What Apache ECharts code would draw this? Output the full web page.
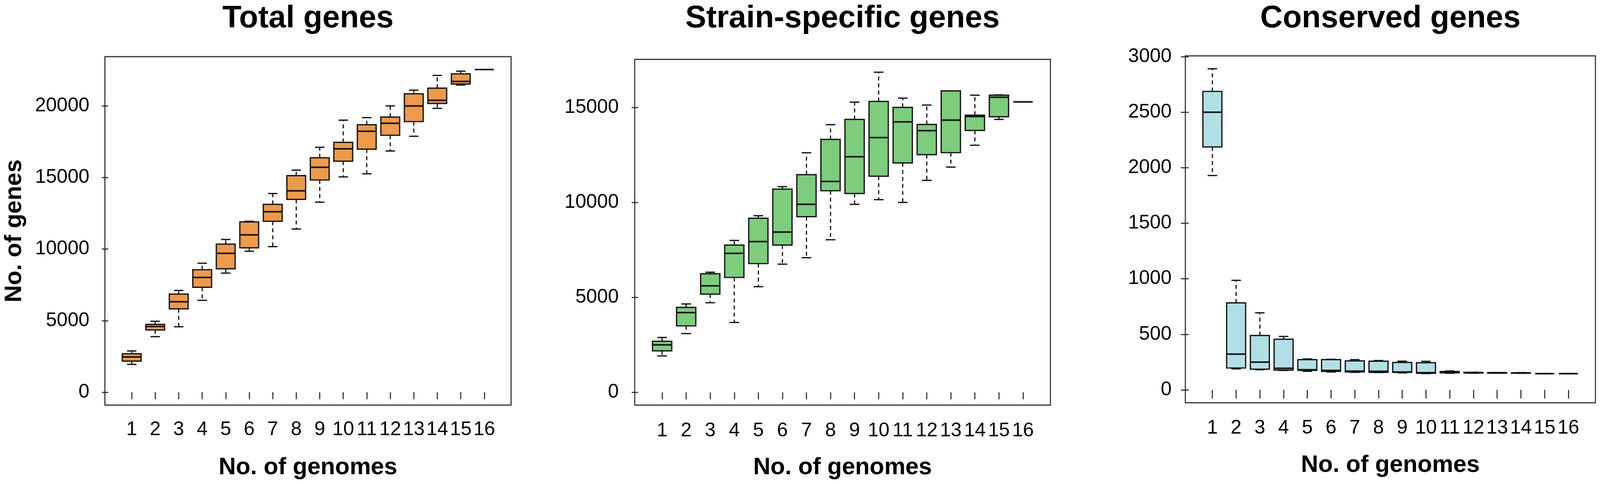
<!DOCTYPE html>
<html>
<head>
<meta charset="utf-8">
<script src="https://cdn.jsdelivr.net/npm/echarts@6/dist/echarts.min.js"></script>
<style>
  html, body { margin: 0; padding: 0; background: #fff; overflow: hidden; }
  #chart { width: 100vw; height: 100vh; }
</style>
</head>
<body>
<div id="chart"></div>
<script>
// No. of genomes (x categories)
const genomeCounts = [1, 2, 3, 4, 5, 6, 7, 8, 9, 10, 11, 12, 13, 14, 15, 16]

// five-number summaries per box: [lower whisker, Q1, median, Q3, upper whisker]
const totalGenes = [
  [1940, 2170, 2465, 2685, 2880],
  [3880, 4350, 4590, 4740, 4955],
  [4570, 5820, 6315, 6850, 7110],
  [6420, 7330, 8015, 8555, 9010],
  [8320, 8620, 9700, 10345, 10670],
  [9850, 10085, 10990, 11895, 11940],
  [10170, 11940, 12605, 13125, 13880],
  [11400, 13470, 14070, 15130, 15515],
  [13275, 14825, 15710, 16380, 17110],
  [15040, 16140, 17000, 17455, 19005],
  [15255, 16980, 18230, 18685, 19180],
  [16850, 17950, 18790, 19225, 20000],
  [17880, 18905, 20000, 20845, 21100],
  [19830, 20170, 20390, 21240, 22130],
  [21460, 21530, 21710, 22240, 22430],
  [22540, 22540, 22540, 22540, 22540]
]

const specificGenes = [
  [1915, 2180, 2500, 2685, 2885],
  [3090, 3495, 4195, 4470, 4650],
  [4715, 5170, 5605, 6240, 6320],
  [3675, 6045, 7315, 7750, 7995],
  [5560, 6775, 7930, 9165, 9295],
  [6745, 7750, 8435, 10695, 10825],
  [7085, 9245, 9895, 11455, 12610],
  [8030, 10610, 11100, 13310, 14090],
  [9895, 10465, 12400, 14365, 15275],
  [10140, 11375, 13405, 15310, 16850],
  [9995, 12075, 14235, 15000, 15485],
  [11155, 12510, 13770, 14100, 15120],
  [11855, 12615, 14325, 15865, 15865],
  [13005, 13785, 14520, 14590, 15640],
  [14365, 14505, 15530, 15640, 15655],
  [15290, 15290, 15290, 15290, 15290]
]

const conservedGenes = [
  [1930, 2187, 2500, 2687, 2891],
  [189, 197, 322, 783, 986],
  [181, 186, 250, 489, 694],
  [175, 178, 194, 456, 481],
  [167, 175, 181, 272, 278],
  [161, 167, 175, 272, 275],
  [158, 161, 169, 261, 272],
  [156, 158, 167, 258, 264],
  [153, 158, 161, 247, 258],
  [147, 150, 155, 244, 257],
  [150, 153, 158, 165, 170],
  [150, 152, 155, 157, 158],
  [150, 151, 153, 155, 156],
  [149, 150, 152, 154, 155],
  [146, 146, 146, 146, 146],
  [146, 146, 146, 146, 146]
]

// y tick labels
const totalTicks = [0, 5000, 10000, 15000, 20000]
const specificTicks = [0, 5000, 10000, 15000]
const conservedTicks = [0, 500, 1000, 1500, 2000, 2500, 3000]

const FONT = 'Liberation Sans, Arial, Helvetica, sans-serif'

// layout was measured on a 4530x1239 picture; the window may be narrower
const dom = document.getElementById('chart')
const kx = dom.clientWidth / 4530
const ky = dom.clientHeight / 1239
const kf = (kx + ky) / 2
const X = v => v * kx
const Y = v => v * ky
const F = v => Math.round(v * kf)

// R-style box: solid box, thick median, dashed whiskers, short solid staples
function renderBox (params, api) {
  const x = api.value(0)
  const lo = api.coord([x, api.value(1)])
  const q1 = api.coord([x, api.value(2)])
  const md = api.coord([x, api.value(3)])
  const q3 = api.coord([x, api.value(4)])
  const hi = api.coord([x, api.value(5)])
  const w = api.size([0.8, 0])[0]
  const cx = lo[0]
  const fill = api.visual('color')
  const dash = { stroke: '#111', lineWidth: 3, lineDash: [10, 8] }
  const solid = { stroke: '#111', lineWidth: 3.2 }
  return {
    type: 'group',
    children: [
      { type: 'line', shape: { x1: cx, y1: q3[1], x2: cx, y2: hi[1] }, style: dash },
      { type: 'line', shape: { x1: cx, y1: q1[1], x2: cx, y2: lo[1] }, style: dash },
      { type: 'line', shape: { x1: cx - w / 4, y1: hi[1], x2: cx + w / 4, y2: hi[1] }, style: solid },
      { type: 'line', shape: { x1: cx - w / 4, y1: lo[1], x2: cx + w / 4, y2: lo[1] }, style: solid },
      {
        type: 'rect',
        shape: { x: cx - w / 2, y: q3[1], width: w, height: q1[1] - q3[1] },
        style: { fill: fill, stroke: '#111', lineWidth: 3.2 }
      },
      { type: 'line', shape: { x1: cx - w / 2, y1: md[1], x2: cx + w / 2, y2: md[1] }, style: { stroke: '#111', lineWidth: 4 } }
    ]
  }
}

const panels = [
  { title: 'Total genes', data: totalGenes, ticks: totalTicks, color: '#EE9A49',
    min: -902, max: 23443, left: 297, top: 145, width: 1150, height: 892,
    yName: 'No. of genes', yMargin: 44, xMargin: 38, tick: 18 },
  { title: 'Strain-specific genes', data: specificGenes, ticks: specificTicks, color: '#7CCD7C',
    min: -674, max: 17525, left: 1797, top: 152, width: 1177, height: 885,
    yName: '', yMargin: 45, xMargin: 41, tick: 18 },
  { title: 'Conserved genes', data: conservedGenes, ticks: conservedTicks, color: '#B0E0E6',
    min: -116, max: 3007, left: 3356, top: 143, width: 1161, height: 888,
    yName: '', yMargin: 39, xMargin: 40, tick: 22 }
]

const myChart = echarts.init(dom)

myChart.setOption({
  backgroundColor: '#fff',
  animation: false,
  title: panels.map(p => ({
    text: p.title,
    left: X(p.left + p.width / 2),
    top: Y(8),
    textAlign: 'center',
    padding: 0,
    textStyle: { fontFamily: FONT, fontSize: F(84), fontWeight: 'bold', color: '#000' }
  })),
  grid: panels.map(p => ({
    left: X(p.left),
    top: Y(p.top),
    width: X(p.width),
    height: Y(p.height),
    show: true,
    backgroundColor: '#fff',
    borderColor: '#333',
    borderWidth: 2.8,
    containLabel: false
  })),
  xAxis: panels.map((p, i) => ({
    type: 'value',
    gridIndex: i,
    min: -0.14,
    max: 17.14,
    name: 'No. of genomes',
    nameLocation: 'middle',
    nameGap: Y(130),
    nameTextStyle: { fontFamily: FONT, fontSize: F(64), fontWeight: 'bold', color: '#000' },
    axisLine: { show: false },
    splitLine: { show: false },
    axisTick: { show: true, length: Y(p.tick), customValues: genomeCounts, lineStyle: { color: '#222', width: 2.6 } },
    axisLabel: { customValues: genomeCounts, margin: Y(p.xMargin), fontFamily: FONT, fontSize: F(52), color: '#000' }
  })),
  yAxis: panels.map((p, i) => ({
    type: 'value',
    gridIndex: i,
    min: p.min,
    max: p.max,
    name: p.yName,
    nameLocation: 'middle',
    nameGap: X(222),
    nameTextStyle: { fontFamily: FONT, fontSize: F(64), fontWeight: 'bold', color: '#000' },
    axisLine: { show: false },
    splitLine: { show: false },
    axisTick: { show: true, length: X(p.tick), customValues: p.ticks, lineStyle: { color: '#222', width: 2.6 } },
    axisLabel: {
      customValues: p.ticks,
      margin: X(p.yMargin),
      formatter: v => String(v),
      fontFamily: FONT,
      fontSize: F(52),
      color: '#000'
    }
  })),
  series: panels.map((p, i) => ({
    type: 'custom',
    name: p.title,
    xAxisIndex: i,
    yAxisIndex: i,
    renderItem: renderBox,
    itemStyle: { color: p.color },
    encode: { x: 0, y: [1, 2, 3, 4, 5] },
    data: p.data.map((row, j) => [genomeCounts[j]].concat(row))
  }))
})
</script>
</body>
</html>
